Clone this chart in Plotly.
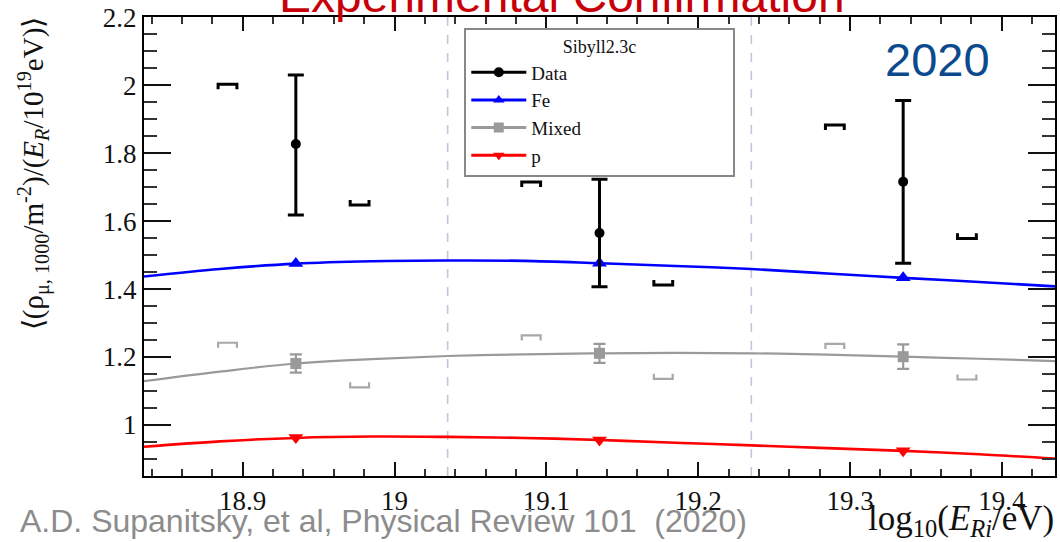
import plotly.graph_objects as go

# ---------------- data ----------------
data_x = [18.935, 19.135, 19.335]
data_y = [1.827, 1.565, 1.716]
data_err_plus = [0.203, 0.158, 0.239]
data_err_minus = [0.209, 0.158, 0.240]

# systematic brackets (upper brackets drawn left of the point, lower ones right)
sys_up_x = [18.890, 19.090, 19.290]
sys_dn_x = [18.977, 19.177, 19.377]
data_sys_up = [2.003, 1.715, 1.883]
data_sys_dn = [1.647, 1.412, 1.549]
mixed_sys_up = [1.242, 1.264, 1.239]
mixed_sys_dn = [1.111, 1.136, 1.134]

# model curves (Sibyll2.3c)
curve_x = [18.835, 18.885, 18.935, 18.985, 19.035, 19.085, 19.135,
           19.185, 19.235, 19.285, 19.335, 19.385, 19.435]
fe_curve = [1.437, 1.459, 1.475, 1.482, 1.484, 1.483, 1.476,
            1.468, 1.459, 1.446, 1.433, 1.421, 1.408]
mixed_curve = [1.129, 1.157, 1.181, 1.194, 1.203, 1.208, 1.211,
               1.212, 1.211, 1.207, 1.201, 1.195, 1.188]
p_curve = [0.936, 0.952, 0.962, 0.966, 0.965, 0.962, 0.956,
           0.948, 0.940, 0.932, 0.924, 0.914, 0.901]

# model values at the data energies
model_x = [18.935, 19.135, 19.335]
fe_pts = [1.475, 1.476, 1.433]
mixed_pts = [1.181, 1.211, 1.201]
mixed_err = [0.027, 0.028, 0.036]
p_pts = [0.963, 0.956, 0.924]

bin_edges = [19.035, 19.235]

x_range = [18.835, 19.435]
y_range = [0.85, 2.2005]

legend_names = ["Data", "Fe", "Mixed", "p"]
legend_title = "Sibyll2.3c"

# ---------------- styling ----------------
SERIF = "Liberation Serif"
BLUE, GRAY, RED, BLACK = "#0000ff", "#9a9a9a", "#ff0000", "#000000"

W, H = 1060, 542
ML, MR, MT, MB = 144, 3, 15, 66
PW, PH = W - ML - MR, H - MT - MB


def px_x(px):
    return (px - ML) / PW


def px_y(py):
    return (H - MB - py) / PH


def brackets(xs, ys, direction, hw=0.0062, hh=0.015):
    bx, by = [], []
    for x, y in zip(xs, ys):
        bx += [x - hw, x - hw, x + hw, x + hw, None]
        by += [y - direction * hh, y, y, y - direction * hh, None]
    return bx, by


fig = go.Figure()

# curves
for ys, col, wdt in [(fe_curve, BLUE, 2.6), (mixed_curve, GRAY, 2.2), (p_curve, RED, 2.6)]:
    fig.add_trace(go.Scatter(x=curve_x, y=ys, mode="lines", line=dict(color=col, width=wdt, shape="spline"),
                             showlegend=False, hoverinfo="skip"))

# model markers
fig.add_trace(go.Scatter(x=model_x, y=fe_pts, mode="markers", showlegend=False,
                         marker=dict(symbol="triangle-up", size=13, color=BLUE)))
fig.add_trace(go.Scatter(x=model_x, y=mixed_pts, mode="markers", showlegend=False,
                         marker=dict(symbol="square", size=11, color=GRAY),
                         error_y=dict(type="data", array=mixed_err, color=GRAY, thickness=2.2, width=6)))
fig.add_trace(go.Scatter(x=model_x, y=p_pts, mode="markers", showlegend=False,
                         marker=dict(symbol="triangle-down", size=13, color=RED)))

# systematic brackets
for xs, ys, d, col, lw in [(sys_up_x, data_sys_up, 1, BLACK, 3), (sys_dn_x, data_sys_dn, -1, BLACK, 3),
                           (sys_up_x, mixed_sys_up, 1, "#a8a8a8", 2.2), (sys_dn_x, mixed_sys_dn, -1, "#a8a8a8", 2.2)]:
    bx, by = brackets(xs, ys, d)
    fig.add_trace(go.Scatter(x=bx, y=by, mode="lines", line=dict(color=col, width=lw),
                             showlegend=False, hoverinfo="skip"))

# data points
fig.add_trace(go.Scatter(x=data_x, y=data_y, mode="markers", showlegend=False,
                         marker=dict(symbol="circle", size=10, color=BLACK),
                         error_y=dict(type="data", symmetric=False, array=data_err_plus,
                                      arrayminus=data_err_minus, color=BLACK, thickness=3, width=8)))

# legend entries
for name, col, sym in zip(legend_names, [BLACK, BLUE, GRAY, RED],
                          ["circle", "triangle-up", "square", "triangle-down"]):
    fig.add_trace(go.Scatter(x=[None], y=[None], mode="lines+markers", name=name,
                             line=dict(color=col, width=3), marker=dict(symbol=sym, size=10, color=col)))

# bin edges (dashed)
for xe in bin_edges:
    fig.add_shape(type="line", xref="x", yref="paper", x0=xe, x1=xe, y0=0, y1=1,
                  line=dict(color="#c2c5dc", width=1.6, dash="dash"), layer="below")

axis_common = dict(showgrid=False, zeroline=False, showline=True, linecolor=BLACK, linewidth=2,
                   mirror="allticks", ticks="inside", tickcolor="#111", tickwidth=2,
                   tickfont=dict(family=SERIF, size=27, color="#111"))

fig.update_xaxes(range=x_range, tick0=18.9, dtick=0.1, ticklen=14, ticklabelstandoff=0,
                 minor=dict(dtick=0.02, ticklen=7, tickwidth=1.5, tickcolor="#333", ticks="inside"),
                 **axis_common)
fig.update_yaxes(range=y_range, tick0=0, dtick=0.2, ticklen=27, ticklabelstandoff=0,
                 minor=dict(dtick=0.05, ticklen=13, tickwidth=1.5, tickcolor="#333", ticks="inside"),
                 **axis_common)

pad = "\u00a0" * 21
fig.update_layout(
    width=W, height=H, margin=dict(l=ML, r=MR, t=MT, b=MB, pad=0),
    paper_bgcolor="white", plot_bgcolor="white",
    legend=dict(x=px_x(465), y=px_y(26), xanchor="left", yanchor="top",
                bgcolor="white", bordercolor="#888888", borderwidth=2,
                font=dict(family=SERIF, size=19, color="#111"), itemwidth=55,
                title=dict(text=pad + legend_title + pad, side="top",
                           font=dict(family=SERIF, size=18, color="#111")),
                tracegroupgap=0),
    annotations=[
        dict(text="Experimental Confirmation", xref="paper", yref="paper", x=px_x(563), y=px_y(22),
             xanchor="center", yanchor="bottom", showarrow=False,
             font=dict(family="Liberation Sans", size=48, color="#c8000a")),
        dict(text="2020", xref="paper", yref="paper", x=px_x(939), y=px_y(86),
             xanchor="center", yanchor="bottom", showarrow=False,
             font=dict(family="Liberation Sans", size=47, color="#0b4a8c")),
        dict(text="A.D. Supanitsky, et al, Physical Review 101  (2020)", xref="paper", yref="paper",
             x=px_x(18), y=px_y(541), xanchor="left", yanchor="bottom", showarrow=False,
             font=dict(family="Liberation Sans", size=32, color="#8c8c8c")),
        dict(text="log<sub>10</sub>(<i>E<sub>Ri</sub></i>/eV)", xref="paper", yref="paper",
             x=px_x(1058), y=px_y(521), xanchor="right", yanchor="middle", showarrow=False,
             font=dict(family=SERIF, size=35, color="#111")),
        dict(text="⟨(ρ<sub>μ, 1000</sub>/m<sup>-2</sup>)/(<i>E<sub>R</sub></i>/10<sup>19</sup>eV)⟩",
             xref="paper", yref="paper", x=px_x(33), y=px_y(12), xanchor="center", yanchor="top",
             textangle=-90, showarrow=False, font=dict(family=SERIF, size=29, color="#111")),
    ],
)

fig.write_html("out.html")
